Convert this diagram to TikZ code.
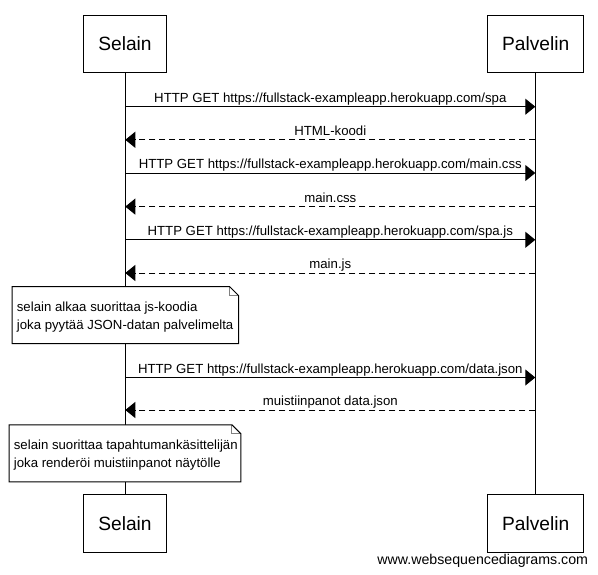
\documentclass[tikz,border=0pt]{standalone}
\usepackage{fontspec}
\setmainfont{Liberation Sans}
\usetikzlibrary{arrows.meta,calc}
\begin{document}
\begin{tikzpicture}[x=1pt,y=-1pt,
  participant/.style={draw=black, line width=1pt, fill=white, minimum height=57.4pt, inner sep=0pt, font=\fontsize{19.2}{22}\selectfont},
  lifeline/.style={draw=black, line width=1pt},
  msg/.style={draw=black, line width=1pt, -{Triangle[length=10pt,width=16pt]}},
  reply/.style={msg, dash pattern=on 6pt off 4pt},
  msglabel/.style={anchor=base, yshift=4.5pt, inner sep=0pt, font=\fontsize{13.2}{15}\selectfont},
  notebox/.style={inner sep=0pt},
  noteline/.style={anchor=base west, inner sep=0pt, font=\fontsize{13.2}{15}\selectfont},
  fold/.style={draw=gray, line width=1pt}
]
\useasboundingbox (0,0) rectangle (598,574);

% participants
\node[participant, minimum width=83.4pt] (sTop) at (125.0,44.0) {Selain};
\node[participant, minimum width=96pt] (pTop) at (535.7,44.0) {Palvelin};
\node[participant, minimum width=83.4pt] (sBot) at (125.0,523.3) {Selain};
\node[participant, minimum width=96pt] (pBot) at (535.7,523.3) {Palvelin};

% lifelines
\draw[lifeline] (sTop.south) -- (sBot.north);
\draw[lifeline] (pTop.south) -- (pBot.north);

% message anchor points
\coordinate (s1) at (125.3,106.7); \coordinate (p1) at (535.3,106.7);
\coordinate (s2) at (125.3,139.8); \coordinate (p2) at (535.3,139.8);
\coordinate (s3) at (125.3,173.0); \coordinate (p3) at (535.3,173.0);
\coordinate (s4) at (125.3,206.6); \coordinate (p4) at (535.3,206.6);
\coordinate (s5) at (125.3,239.8); \coordinate (p5) at (535.3,239.8);
\coordinate (s6) at (125.3,273.0); \coordinate (p6) at (535.3,273.0);
\coordinate (s7) at (125.3,377.5); \coordinate (p7) at (535.3,377.5);
\coordinate (s8) at (125.3,410.0); \coordinate (p8) at (535.3,410.0);

\draw[msg] (s1) -- (p1) node[msglabel, pos=0.5] (l1) {HTTP GET https://fullstack-exampleapp.herokuapp.com/spa};
\draw[reply] (p2) -- (s2) node[msglabel, pos=0.5] (l2) {HTML-koodi};
\draw[msg] (s3) -- (p3) node[msglabel, pos=0.5] (l3) {HTTP GET https://fullstack-exampleapp.herokuapp.com/main.css};
\draw[reply] (p4) -- (s4) node[msglabel, pos=0.5] (l4) {main.css};
\draw[msg] (s5) -- (p5) node[msglabel, pos=0.5] (l5) {HTTP GET https://fullstack-exampleapp.herokuapp.com/spa.js};
\draw[reply] (p6) -- (s6) node[msglabel, pos=0.5] (l6) {main.js};
\draw[msg] (s7) -- (p7) node[msglabel, pos=0.5] (l7) {HTTP GET https://fullstack-exampleapp.herokuapp.com/data.json};
\draw[reply] (p8) -- (s8) node[msglabel, pos=0.5] (l8) {muistiinpanot data.json};

% note 1
\node[notebox, minimum width=226pt, minimum height=56.6pt] (n1) at (125.3,315.0) {};
\fill[white] (n1.north west) -- ($(n1.north east)+(-9,0)$) -- ($(n1.north east)+(0,9)$) -- (n1.south east) -- (n1.south west) -- cycle;
\draw[fold] ($(n1.north east)+(-9,0)$) -- ($(n1.north east)+(-9,9)$) -- ($(n1.north east)+(0,9)$);
\draw[line width=1pt] (n1.north west) -- ($(n1.north east)+(-9,0)$) -- ($(n1.north east)+(0,9)$) -- (n1.south east) -- (n1.south west) -- cycle;
\node[noteline] (n1a) at (16.7,311.0) {selain alkaa suorittaa js-koodia};
\node[noteline] (n1b) at (16.7,329.5) {joka pyytää JSON-datan palvelimelta};

% note 2
\node[notebox, minimum width=231.4pt, minimum height=56.7pt] (n2) at (125.0,453.3) {};
\fill[white] (n2.north west) -- ($(n2.north east)+(-9,0)$) -- ($(n2.north east)+(0,9)$) -- (n2.south east) -- (n2.south west) -- cycle;
\draw[fold] ($(n2.north east)+(-9,0)$) -- ($(n2.north east)+(-9,9)$) -- ($(n2.north east)+(0,9)$);
\draw[line width=1pt] (n2.north west) -- ($(n2.north east)+(-9,0)$) -- ($(n2.north east)+(0,9)$) -- (n2.south east) -- (n2.south west) -- cycle;
\node[noteline] (n2a) at (13.7,449.3) {selain suorittaa tapahtumankäsittelijän};
\node[noteline] (n2b) at (13.7,467.5) {joka renderöi muistiinpanot näytölle};

% watermark
\node[anchor=base east, inner sep=0pt, font=\fontsize{14.2}{16}\selectfont] (wm) at (588.3,564.5) {www.websequencediagrams.com};
\end{tikzpicture}
\end{document}
